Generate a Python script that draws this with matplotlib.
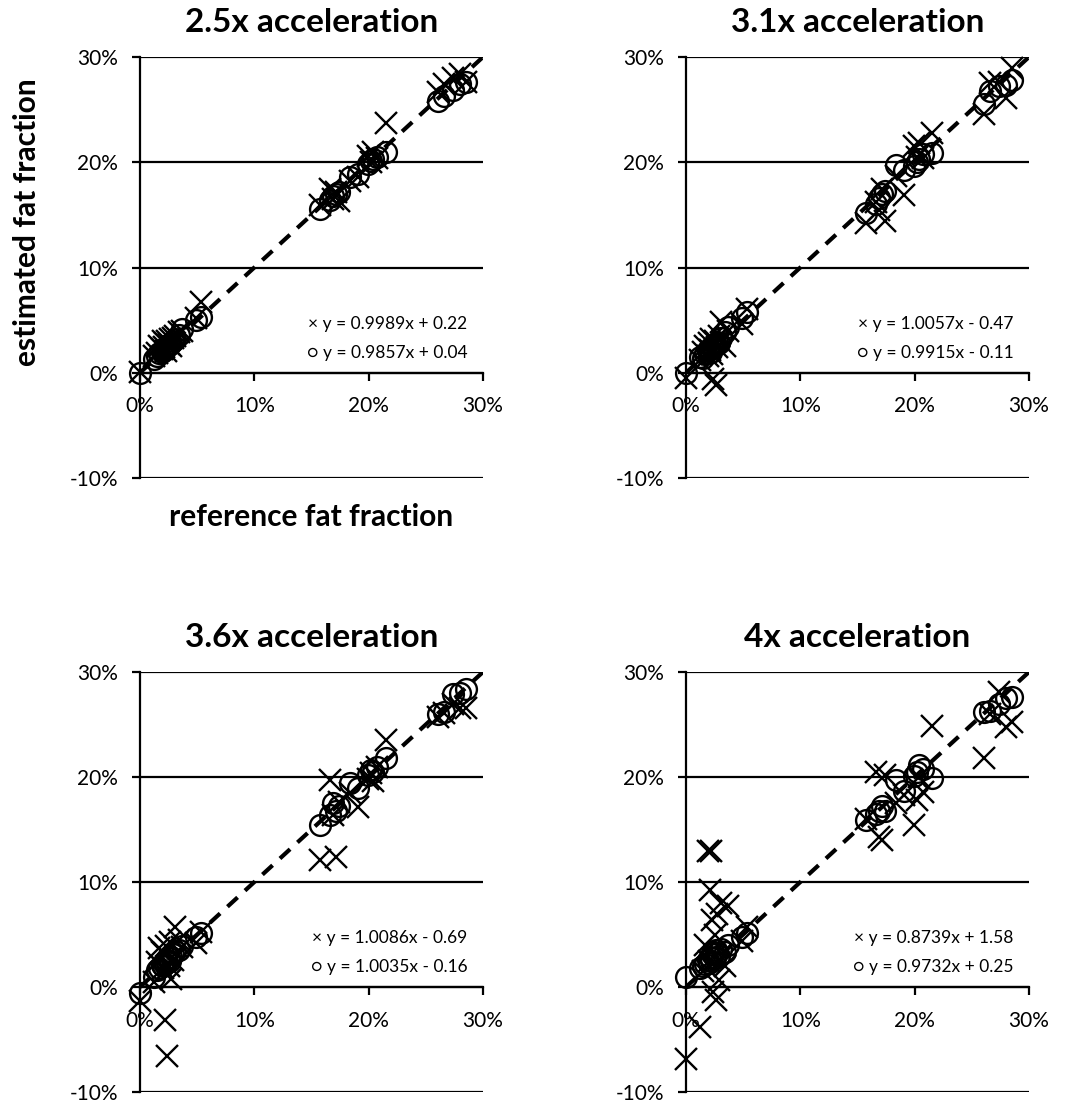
import matplotlib
matplotlib.use("Agg")
import matplotlib.pyplot as plt
from matplotlib.ticker import FuncFormatter

plt.rcParams['font.family'] = ['Lato', 'DejaVu Sans']

# reference fat fraction (%), shared by all four panels
ref = [0.0, 1.2, 1.5, 1.7, 1.9, 2.0, 2.1, 2.2, 2.3, 2.4, 2.5, 2.6, 2.7, 2.9, 3.1, 3.4, 3.7, 4.9, 5.3,
       15.7, 16.6, 16.9, 17.1, 17.4, 18.4, 19.1, 19.9, 20.2, 20.4, 20.7, 21.5,
       26.1, 26.6, 27.4, 28.0, 28.5]

titles = ['2.5x acceleration', '3.1x acceleration', '3.6x acceleration', '4x acceleration']

# estimated fat fraction (%), circles
est_circle = [
    [0.0, 1.3, 1.6, 1.9, 2.0, 2.1, 2.2, 2.3, 2.4, 2.5, 2.6, 2.7, 2.8, 3.0, 3.2, 3.6, 4.2, 5.0, 5.3,
     15.6, 16.4, 16.8, 17.0, 17.2, 18.6, 18.9, 19.8, 20.1, 20.3, 20.5, 21.0,
     25.8, 26.3, 26.9, 27.4, 27.6],
    [0.0, 1.5, 1.4, 1.8, 2.2, 1.9, 2.3, 2.0, 2.5, 2.4, 2.7, 2.6, 2.9, 2.8, 3.3, 3.9, 4.3, 5.2, 5.8,
     15.2, 16.0, 16.6, 17.0, 17.3, 19.7, 19.3, 19.6, 20.0, 20.3, 20.8, 20.9,
     25.5, 26.8, 27.2, 27.3, 27.8],
    [-0.6, 1.0, 1.6, 1.8, 2.1, 2.0, 2.3, 2.2, 2.6, 2.4, 2.8, 2.5, 2.9, 3.1, 3.4, 3.5, 3.9, 4.8, 5.1,
     15.4, 16.4, 17.5, 16.8, 17.2, 19.4, 19.0, 20.2, 20.7, 20.5, 21.0, 21.8,
     26.0, 26.2, 27.9, 28.0, 28.4],
    [1.0, 1.8, 2.0, 2.2, 2.6, 2.3, 2.9, 2.5, 3.1, 3.3, 2.8, 3.5, 3.2, 3.0, 3.6, 3.3, 4.0, 4.8, 5.1,
     15.9, 16.5, 16.8, 17.2, 16.8, 19.7, 18.7, 20.1, 20.5, 21.1, 20.8, 19.9,
     26.2, 26.3, 27.0, 27.5, 27.6],
]

# estimated fat fraction (%), crosses
est_cross = [
    [0.1, 1.6, 1.9, 2.5, 2.3, 3.0, 2.4, 2.8, 2.1, 3.0, 2.7, 3.2, 2.5, 3.3, 3.5, 3.9, 4.0, 5.2, 6.7,
     15.9, 17.5, 16.5, 17.2, 16.3, 18.2, 18.6, 20.6, 20.0, 21.0, 20.4, 23.7,
     26.7, 27.4, 28.0, 28.4, 27.6],
    [-0.5, 1.2, 2.0, 2.5, 1.6, 2.8, 2.2, 3.2, 1.8, -0.6, 3.0, -1.2, 2.4, 3.5, 4.8, 2.5, 4.0, 4.6, 6.1,
     14.2, 16.2, 15.5, 17.5, 14.4, 18.7, 16.9, 21.5, 20.5, 21.8, 20.4, 22.8,
     24.6, 27.5, 27.6, 26.1, 29.0],
    [-1.3, 0.5, 2.4, 3.7, 3.3, 1.8, 3.2, -3.1, 3.9, -6.6, 2.0, 4.3, 0.8, 2.6, 5.7, 4.5, 3.8, 4.2, 5.2,
     12.1, 19.7, 16.4, 12.4, 17.6, 18.5, 17.1, 19.8, 20.4, 19.6, 21.0, 23.5,
     25.7, 26.1, 27.0, 26.6, 26.6],
    [-6.9, -3.8, 1.5, 4.0, 13.0, 2.5, 9.2, 13.0, 6.4, -0.5, 5.0, -1.2, 7.0, 0.7, 8.0, 2.0, 7.7, 4.4, 5.7,
     16.0, 20.5, 14.3, 14.0, 20.2, 17.5, 18.3, 15.4, 17.8, 20.0, 18.6, 24.9,
     21.8, 26.0, 28.1, 24.8, 25.2],
]

fit_cross = ['y = 0.9989x + 0.22', 'y = 1.0057x - 0.47', 'y = 1.0086x - 0.69', 'y = 0.8739x + 1.58']
fit_circle = ['y = 0.9857x + 0.04', 'y = 0.9915x - 0.11', 'y = 1.0035x - 0.16', 'y = 0.9732x + 0.25']

W, H = 1075, 1107
fig = plt.figure(figsize=(W / 100, H / 100), dpi=100)

# axes boxes in pixels: left, x at 30%, top (30%), bottom (-10%)
boxes = [(140, 483, 57, 478), (686, 1029, 57, 478),
         (140, 483, 672, 1092), (686, 1029, 672, 1092)]

pct = FuncFormatter(lambda v, p: f'{v:.0f}%')

for i, (x0, x1, yt, yb) in enumerate(boxes):
    ax = fig.add_axes([x0 / W, 1 - yb / H, (x1 - x0) / W, (yb - yt) / H])
    ax.set_xlim(0, 30)
    ax.set_ylim(-10, 30)
    ax.spines['top'].set_visible(False)
    ax.spines['right'].set_visible(False)
    ax.spines['bottom'].set_position(('data', 0))
    for s in ('left', 'bottom'):
        ax.spines[s].set_linewidth(1.6)
    ax.set_xticks([0, 10, 20, 30])
    ax.set_yticks([-10, 0, 10, 20, 30])
    ax.xaxis.set_major_formatter(pct)
    ax.yaxis.set_major_formatter(pct)
    ax.tick_params(axis='x', direction='out', length=6, width=1.6, pad=11, labelsize=15)
    ax.tick_params(axis='y', direction='out', length=6, width=1.6, pad=10, labelsize=15)
    ax.yaxis.grid(True, color='black', linewidth=1.6)
    ax.set_axisbelow(True)

    ax.plot([0, 30], [0, 30], color='black', linewidth=3, dashes=(3.3, 2.4), zorder=2)
    ax.plot(ref, est_cross[i], linestyle='none', marker='x', markersize=16,
            markeredgewidth=1.7, color='black', clip_on=False, zorder=3)
    ax.plot(ref, est_circle[i], linestyle='none', marker='o', markersize=15,
            markerfacecolor='none', markeredgewidth=1.7, markeredgecolor='black',
            clip_on=False, zorder=3)

    ax.text(0.5, 1 + 35 / (yb - yt), titles[i], transform=ax.transAxes, ha='center', va='center',
            fontsize=24, fontweight='bold')
    ax.text(0.955, 0.366, '\u00d7 ' + fit_cross[i], transform=ax.transAxes, ha='right', va='center',
            fontsize=12.5)
    ax.text(0.955, 0.297, '\u25cb ' + fit_circle[i], transform=ax.transAxes, ha='right', va='center',
            fontsize=12.5)

fig.text(27 / W, 1 - 222 / H, 'estimated fat fraction', rotation=90, ha='center', va='center',
         fontsize=21.5, fontweight='bold')
fig.text(311 / W, 1 - 517 / H, 'reference fat fraction', ha='center', va='center',
         fontsize=21.5, fontweight='bold')

fig.savefig('out.png', dpi=100)
